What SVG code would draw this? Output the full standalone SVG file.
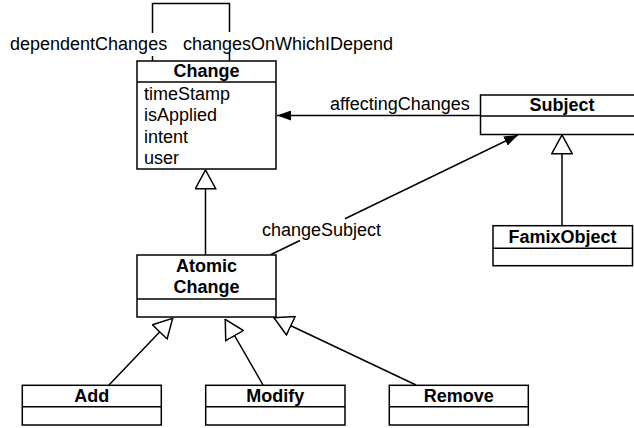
<svg xmlns="http://www.w3.org/2000/svg" width="634" height="428" viewBox="0 0 634 428">
<style>
.box{fill:#fff;stroke:#000;stroke-width:1.5}
.div{stroke:#000;stroke-width:1.5}
.t{font-family:"Liberation Sans",Arial,Helvetica,sans-serif;font-size:18px;fill:#000}
.b{font-weight:bold;text-anchor:middle}
.ln{fill:none;stroke:#000;stroke-width:1.5}
</style>
<defs>
<marker id="gen" viewBox="0 0 20 22" refX="20" refY="11" markerWidth="20" markerHeight="22" markerUnits="userSpaceOnUse" orient="auto">
<path d="M0.8,0.8 L19.5,11 L0.8,21.2 Z" fill="#fff" stroke="#000" stroke-width="1.5"/>
</marker>
<marker id="arr" viewBox="0 0 14 10" refX="14" refY="5" markerWidth="14" markerHeight="10" markerUnits="userSpaceOnUse" orient="auto">
<path d="M0,0 L14,5 L0,10 Z" fill="#000"/>
</marker>
</defs>
<rect width="634" height="428" fill="#fff"/>
<g id="connectors">
<path class="ln" d="M152.5,61 V56 M152.5,33 V3.5 H229.5 V32 M229.5,53 V61"/>
<text class="t" x="10" y="50">dependentChanges</text>
<text class="t" x="183" y="50">changesOnWhichIDepend</text>
<path class="ln" d="M480,115.5 H277" marker-end="url(#arr)"/>
<text class="t" x="330" y="110">affectingChanges</text>
<path class="ln" d="M270,255 L300,240.5"/>
<path class="ln" d="M345,218.7 L518,135" marker-end="url(#arr)"/>
<text class="t" x="262" y="235.5">changeSubject</text>
<path class="ln" d="M205.5,255 V169.5" marker-end="url(#gen)"/>
<path class="ln" d="M562,225.7 V134.5" marker-end="url(#gen)"/>
<path class="ln" d="M109,385 L173,318" marker-end="url(#gen)"/>
<path class="ln" d="M263,385 L225,319" marker-end="url(#gen)"/>
<path class="ln" d="M416,385 L273.5,317.5" marker-end="url(#gen)"/>
</g>
<g id="change">
<rect class="box" x="137" y="61" width="139" height="108"/>
<line class="div" x1="137" y1="82" x2="276" y2="82"/>
<text class="t b" x="206.5" y="77">Change</text>
<text class="t" x="144" y="100">timeStamp</text>
<text class="t" x="144" y="121">isApplied</text>
<text class="t" x="144" y="142.5">intent</text>
<text class="t" x="144" y="164">user</text>
</g>
<g id="subject">
<rect class="box" x="480.5" y="95" width="164" height="39.5"/>
<line class="div" x1="480.5" y1="116" x2="644.5" y2="116"/>
<text class="t b" x="562" y="111">Subject</text>
</g>
<g id="famixobject">
<rect class="box" x="493" y="225.7" width="139.5" height="40"/>
<line class="div" x1="493" y1="248.3" x2="632.5" y2="248.3"/>
<text class="t b" x="562.5" y="243">FamixObject</text>
</g>
<g id="atomicchange">
<rect class="box" x="137" y="255" width="139" height="62"/>
<line class="div" x1="137" y1="299" x2="276" y2="299"/>
<text class="t b" x="206.5" y="271.5">Atomic</text>
<text class="t b" x="206.5" y="293">Change</text>
</g>
<g id="add">
<rect class="box" x="22.3" y="385.3" width="139" height="39.7"/>
<line class="div" x1="22.3" y1="406.7" x2="161.3" y2="406.7"/>
<text class="t b" x="91.8" y="401.5">Add</text>
</g>
<g id="modify">
<rect class="box" x="205.7" y="385.3" width="139.3" height="39.7"/>
<line class="div" x1="205.7" y1="406.7" x2="345" y2="406.7"/>
<text class="t b" x="275.3" y="401.5">Modify</text>
</g>
<g id="remove">
<rect class="box" x="389.3" y="385.3" width="139" height="39.7"/>
<line class="div" x1="389.3" y1="406.7" x2="528.3" y2="406.7"/>
<text class="t b" x="458.8" y="401.5">Remove</text>
</g>
</svg>
